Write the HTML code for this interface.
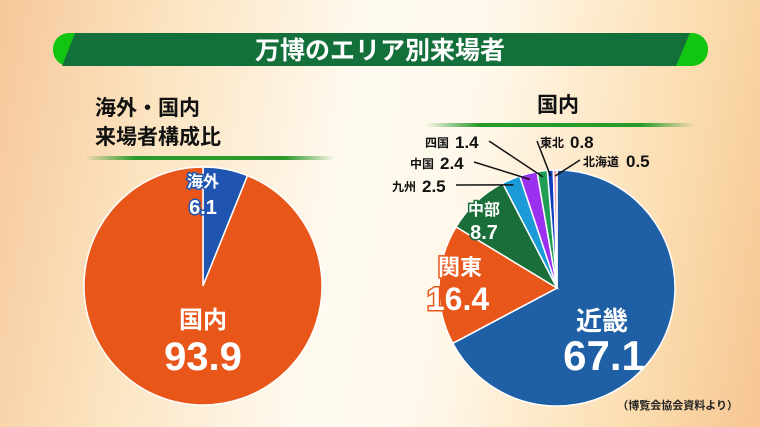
<!DOCTYPE html>
<html><head><meta charset="utf-8">
<style>
body{margin:0;width:760px;height:427px;overflow:hidden;font-family:"Liberation Sans","Noto Sans CJK JP",sans-serif;}
#bg{position:absolute;left:0;top:0;width:760px;height:427px;background:linear-gradient(100deg,#f7c79a 0%,#fbe3bf 20%,#fffaf0 45%,#fff8ea 60%,#fbdcae 85%,#f6c592 100%);}
svg{position:absolute;left:0;top:0}
</style></head><body>
<div id="bg"></div>
<svg width="760" height="427" id="chart">
<defs>
<linearGradient id="ln1" x1="0" x2="1"><stop offset="0" stop-color="#2a9a2a" stop-opacity="0"/><stop offset="0.2" stop-color="#2a9a2a"/><stop offset="0.8" stop-color="#2a9a2a"/><stop offset="1" stop-color="#2a9a2a" stop-opacity="0"/></linearGradient>
</defs>
<g>
<rect x="53" y="33" width="655" height="33" rx="16" fill="#11c511"/>
<polygon points="75,33 690,33 676,66 62,66" fill="#14703a"/>
<text x="380" y="59" text-anchor="middle" font-size="25" font-weight="bold" fill="#fff">万博のエリア別来場者</text>
</g>
<text x="95" y="115" font-size="21" font-weight="bold" fill="#111">海外・国内</text>
<text x="95" y="144" font-size="21" font-weight="bold" fill="#111">来場者構成比</text>
<rect x="85" y="156" width="250" height="4" fill="url(#ln1)"/>
<text x="558" y="112" font-size="21" font-weight="bold" fill="#111" text-anchor="middle">国内</text>
<rect x="425" y="123" width="270" height="4" fill="url(#ln1)"/>
<g id="pieL"></g>
<g id="pieR"></g>
<g id="labels"></g>
<text x="738" y="409" font-size="11" font-weight="bold" fill="#222" text-anchor="end">（博覧会協会資料より）</text>
</svg>
<script>
const leftCats=["海外","国内"];
const leftVals=[6.1,93.9];
const rightCats=["近畿","関東","中部","九州","中国","四国","東北","北海道"];
const rightVals=[67.1,16.4,8.7,2.5,2.4,1.4,0.8,0.5];
const leftColors=["#1f55b0","#e8561a"];
const rightColors=["#1f5fa6","#e8561a","#1a6e3a","#1a9ad6","#9b30f0","#1f9e55","#1040c0","#e8a0b0"];
const NS="http://www.w3.org/2000/svg";
function pt(cx,cy,r,f){const a=f*2*Math.PI;return [cx+r*Math.sin(a),cy-r*Math.cos(a)];}
function drawPie(g,vals,cats,colors,cx,cy,r){
  const tot=vals.reduce((a,b)=>a+b,0);let acc=0;const mids=[];
  vals.forEach((v,i)=>{
    const f0=acc/tot,f1=(acc+v)/tot;acc+=v;
    const p0=pt(cx,cy,r,f0),p1=pt(cx,cy,r,f1);
    const p=document.createElementNS(NS,"path");
    p.setAttribute("d",`M${cx},${cy}L${p0[0]},${p0[1]}A${r},${r} 0 ${f1-f0>0.5?1:0} 1 ${p1[0]},${p1[1]}Z`);
    p.setAttribute("fill",colors[i]);p.setAttribute("stroke","#fff");p.setAttribute("stroke-width","1.5");
    
    
    g.appendChild(p);mids.push((f0+f1)/2);
  });
  return mids;
}
function txt(x,y,s,size,fill,anchor,name,stroke){
  const t=document.createElementNS(NS,"text");
  t.setAttribute("x",x);t.setAttribute("y",y);t.setAttribute("font-size",size);t.setAttribute("font-weight","bold");
  t.setAttribute("fill",fill);t.setAttribute("text-anchor",anchor||"middle");
  if(stroke){t.setAttribute("stroke",stroke);t.setAttribute("stroke-width","3");t.setAttribute("paint-order","stroke");}
  t.textContent=s;
  
  
  document.getElementById("labels").appendChild(t);
}
function line(pts){
  const l=document.createElementNS(NS,"polyline");
  l.setAttribute("points",pts.map(p=>p.join(",")).join(" "));
  l.setAttribute("fill","none");l.setAttribute("stroke","#111");l.setAttribute("stroke-width","1.5");
  
  
  document.getElementById("labels").appendChild(l);
}
drawPie(document.getElementById("pieL"),leftVals,leftCats,leftColors,203,286,119);
const mR=drawPie(document.getElementById("pieR"),rightVals,rightCats,rightColors,557,288,118);
txt(203,187,leftCats[0],16,"#fff","middle","label-overseas","#1f55b0");
txt(203,214,leftVals[0].toFixed(1),20,"#fff","middle","value-overseas","#1f55b0");
txt(203,328,leftCats[1],24,"#fff","middle","label-domestic");
txt(203,370,leftVals[1].toFixed(1),40,"#fff","middle","value-domestic");
txt(602,330,rightCats[0],26,"#fff","middle","label-kinki");
txt(604,370,rightVals[0].toFixed(1),42,"#fff","middle","value-kinki");
txt(460,275,rightCats[1],22,"#fff","middle","label-kanto","#e8561a");
txt(458,310,rightVals[1].toFixed(1),32,"#fff","middle","value-kanto","#e8561a");
txt(484,215,rightCats[2],16,"#fff","middle","label-chubu","#1a6e3a");
txt(484,239,rightVals[2].toFixed(1),20,"#fff","middle","value-chubu","#1a6e3a");
const sm=[[3,392,191],[4,410,168],[5,425,147],[6,540,147],[7,583,166]];
sm.forEach(([i,x,y])=>{
  txt(x,y,rightCats[i],12,"#111","start","label-"+i);
  txt(x+(rightCats[i].length*13)+4,y+1,rightVals[i].toFixed(1),17,"#111","start","value-"+i);
  const e=pt(557,288,112,mR[i]);
  const lx=i<=5?x+(rightCats[i].length*13)+38:x-3;
  line([[lx,y-6],[e[0],e[1]]]);
});
</script>
</body></html>
